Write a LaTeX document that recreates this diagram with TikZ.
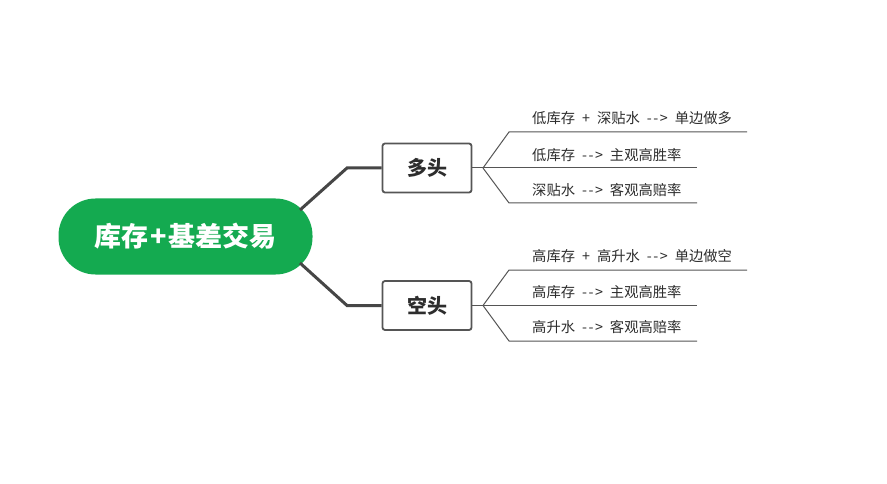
\documentclass[tikz,border=0pt]{standalone}
\usepackage{fontspec}
\setmainfont{Noto Sans CJK SC}[Ligatures=NoCommon]
\definecolor{rootgreen}{RGB}{20,170,80}
\definecolor{linegray}{RGB}{70,70,70}
\definecolor{boxgray}{RGB}{85,85,85}
\definecolor{txtgray}{RGB}{45,45,45}
\newcommand{\gp}{\hspace{7pt}}
\newcommand{\arr}{-\kern1.5pt-\kern1.5pt>}
\begin{document}
\begin{tikzpicture}[x=1pt,y=-1pt,
  rootnode/.style={fill=rootgreen,rounded corners=37pt,minimum width=254pt,minimum height=76pt,text=white,font=\fontsize{27}{30}\selectfont\bfseries,inner sep=0pt},
  branchbox/.style={draw=boxgray,line width=1.8pt,rounded corners=2.5pt,fill=white,minimum width=89pt,minimum height=49pt,text=txtgray,font=\fontsize{20}{24}\selectfont\bfseries,inner sep=0pt},
  mainline/.style={linegray,line width=3pt},
  leafline/.style={boxgray,line width=1pt},
  leaftext/.style={anchor=west,text=txtgray,font=\fontsize{14.3}{16}\selectfont,inner sep=0pt}
]
\useasboundingbox (0,0) rectangle (887,484);
\fill[white] (0,0) rectangle (887,484);

\node[rootnode] (root) at (185.5,236.5) {库存\kern2pt+\kern2pt基差交易};
\node[branchbox] (duo) at (427,168) {多头};
\node[branchbox] (kong) at (427,305.5) {空头};

\coordinate (r1) at (300,210);
\coordinate (e1) at (347,168);
\coordinate (r2) at (300,263);
\coordinate (e2) at (347,305.5);
\draw[mainline] (r1) -- (e1) -- (duo.west);
\draw[mainline] (r2) -- (e2) -- (kong.west);

% upper leaves
\coordinate (f1) at (483,168);
\coordinate (a1) at (509,132);
\coordinate (a1e) at (747,132);
\coordinate (b1e) at (697,168);
\coordinate (c1) at (509,203);
\coordinate (c1e) at (697,203);
\draw[leafline] (duo.east) -- (f1);
\draw[leafline] (f1) -- (a1) -- (a1e);
\draw[leafline] (f1) -- (b1e);
\draw[leafline] (f1) -- (c1) -- (c1e);
\node[leaftext] (t11) at (532,118) {低库存\gp{}+\gp{}深贴水\gp{}\arr\gp{}单边做多};
\node[leaftext] (t12) at (532,155) {低库存\gp{}\arr\gp{}主观高胜率};
\node[leaftext] (t13) at (532,190) {深贴水\gp{}\arr\gp{}客观高赔率};

% lower leaves
\coordinate (f2) at (483,305.5);
\coordinate (a2) at (509,270);
\coordinate (a2e) at (747,270);
\coordinate (b2e) at (697,305.5);
\coordinate (c2) at (509,341);
\coordinate (c2e) at (697,341);
\draw[leafline] (kong.east) -- (f2);
\draw[leafline] (f2) -- (a2) -- (a2e);
\draw[leafline] (f2) -- (b2e);
\draw[leafline] (f2) -- (c2) -- (c2e);
\node[leaftext] (t21) at (532,256) {高库存\gp{}+\gp{}高升水\gp{}\arr\gp{}单边做空};
\node[leaftext] (t22) at (532,292) {高库存\gp{}\arr\gp{}主观高胜率};
\node[leaftext] (t23) at (532,327) {高升水\gp{}\arr\gp{}客观高赔率};
\end{tikzpicture}
\end{document}
